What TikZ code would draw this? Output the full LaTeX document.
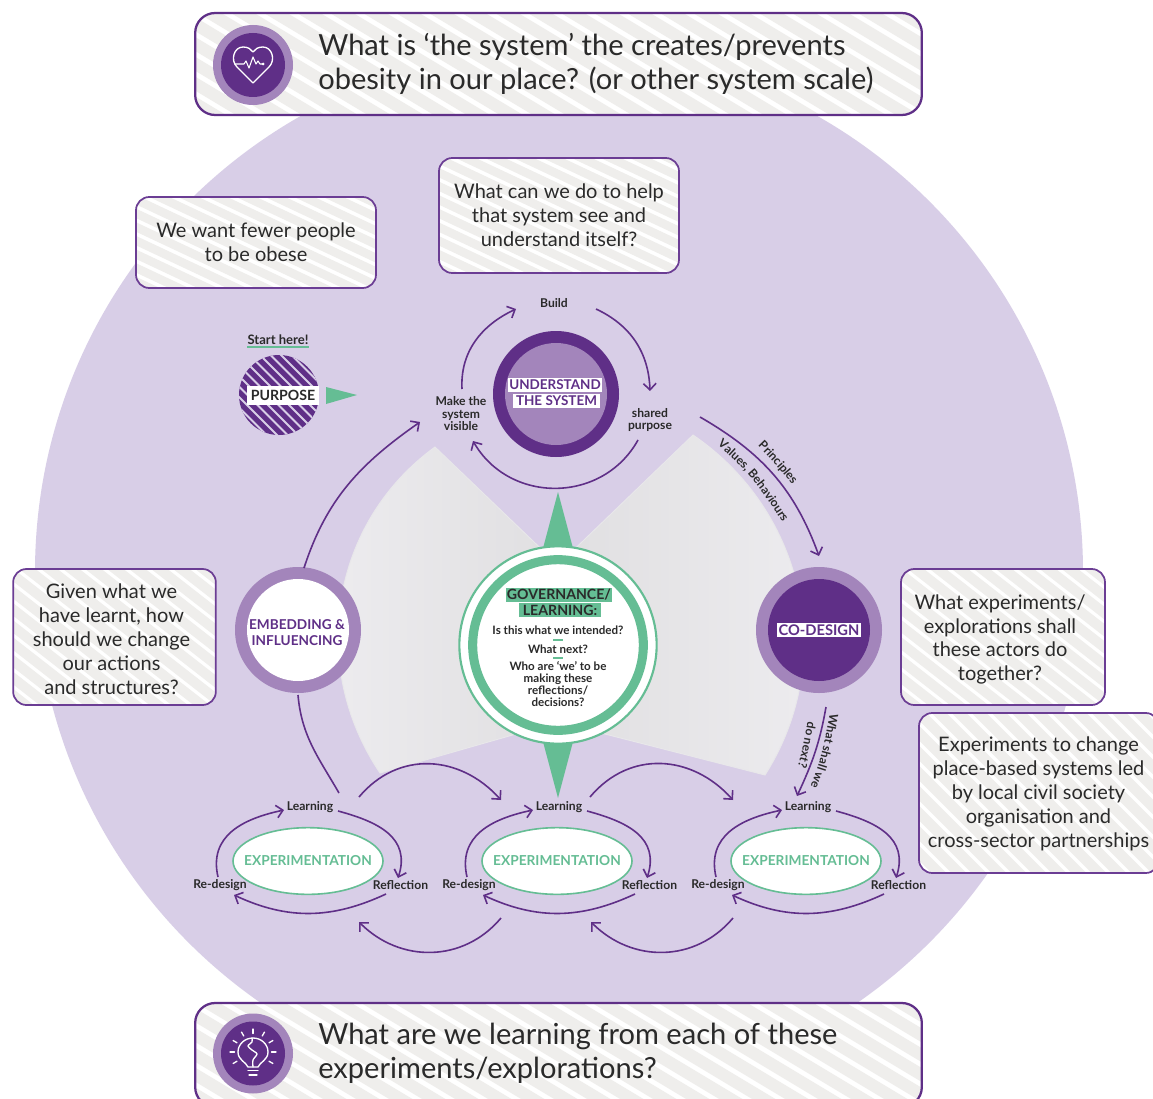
\documentclass[tikz,border=0pt]{standalone}
\usepackage{fontspec}
\setmainfont{Lato}
\usetikzlibrary{arrows.meta,decorations.text,shapes.geometric}
\definecolor{bgp}{HTML}{D8CEE7}
\definecolor{dp}{HTML}{5F2F87}
\definecolor{lp}{HTML}{A385BB}
\definecolor{gn}{HTML}{65BD94}
\definecolor{gs}{HTML}{EFEEEC}
\definecolor{ink}{HTML}{2A2A2A}
\definecolor{wl}{HTML}{EEEDF0}
\definecolor{wd}{HTML}{E0DFE1}
\definecolor{edgep}{HTML}{6B3D94}
\tikzset{
  x=0.75pt,y=-0.75pt,
  flow/.style={draw=dp,line width=1.2pt,-{Straight Barb[length=4.8pt,width=9.5pt,line width=1.2pt]}},
  plainflow/.style={draw=dp,line width=1.2pt},
  stripes/.style n args={3}{path picture={
    \foreach \s in {-30,...,30}
      \draw[gs,line width=#3] ([shift={(\s*#1-400,-400*#2)}]path picture bounding box.center) -- ([shift={(\s*#1+400,400*#2)}]path picture bounding box.center);}},
  callout/.style={draw=edgep,line width=1.3pt,fill=white,rounded corners=10pt,inner sep=0pt},
  ctext/.style={align=center,text=ink,inner sep=0pt,font=\fontsize{15}{17.9}\selectfont},
  banner/.style={draw=dp,line width=1.7pt,fill=white,rounded corners=15pt,stripes={33}{.6}{9pt},inner sep=0pt},
  bannertext/.style={anchor=west,text=ink,align=left,inner sep=0pt,font=\fontsize{21.8}{25.5}\selectfont},
  small/.style={text=ink,inner sep=0pt,align=center,font=\bfseries\fontsize{9.1}{9.4}\selectfont},
  tag/.style={fill=white,inner sep=0pt,text=dp,align=center,font=\bfseries\fontsize{10.1}{11}\selectfont},
  ringouter/.style={circle,fill=#1,minimum size=94.5pt,inner sep=0pt},
  ringinner/.style={circle,fill=#1,minimum size=76.5pt,inner sep=0pt},
  iconouter/.style={circle,fill=lp,minimum size=60pt,inner sep=0pt},
  iconinner/.style={circle,fill=dp,minimum size=48pt,inner sep=0pt},
  iconline/.style={draw=white,line width=1pt,line cap=round,line join=round},
  greenband/.style={fill=gn,inner sep=0pt,text=ink,font=\bfseries\fontsize{10.6}{11}\selectfont},
  govtext/.style={text=ink,inner sep=0pt,align=center,font=\bfseries\fontsize{8.7}{9}\selectfont},
  expell/.style={ellipse,draw=gn,line width=1.2pt,fill=white,minimum width=112.5pt,minimum height=50pt,inner sep=0pt},
  exptext/.style={text=gn,inner sep=0pt,font=\bfseries\fontsize{10.3}{12}\selectfont},
  bent/.style={decorate,decoration={text along path,text align=center,text={|\bfseries\fontsize{9}{9}\selectfont\color{ink}|#1}}}
}
\begin{document}
\begin{tikzpicture}
\clip (0,0) rectangle (1153,1099);
\fill[white] (0,0) rectangle (1153,1099);
% big disc
\fill[bgp] (559,572) circle (524);
% grey wedges
\coordinate (wa) at (435,447); \coordinate (wb) at (558,565); \coordinate (wc) at (558,722); \coordinate (wd1) at (380,773);
\coordinate (xa) at (693,435); \coordinate (xd) at (765,775);
\shade[left color=wl,right color=wd,draw=wl!60!wd,line width=.7pt] (wa) -- (wb) -- (wc) -- (wd1) to[out=124,in=216] (wa) -- cycle;
\shade[left color=wd,right color=wl,draw=wl!60!wd,line width=.7pt] (xa) -- (wb) -- (wc) -- (xd) to[out=57.5,in=-34.3] (xa) -- cycle;
% green spikes
\fill[gn] (558,492) -- (574,552) -- (542,552) -- cycle;
\fill[gn] (558,798) -- (574,738) -- (542,738) -- cycle;
% central circle
\node[circle,draw=gn,line width=1.6pt,fill=white,minimum size=148pt,inner sep=0pt] (gov) at (558,645) {};
\node[circle,draw=gn,line width=6.8pt,fill=white,minimum size=128pt,inner sep=0pt] (govring) at (558,645) {};
\node[greenband,minimum width=79.5pt,minimum height=10.5pt] (g1) at (559,594.5) {GOVERNANCE/};
\node[greenband,minimum width=61.5pt,minimum height=10.5pt] (g2) at (560,610) {LEARNING:};
\node[govtext] (g3) at (558,630) {Is this what we intended?};
\fill[gn] (553,639.3) rectangle (563,640.7);
\node[govtext] (g4) at (558,649) {What next?};
\fill[gn] (553,657.3) rectangle (563,658.7);
\node[govtext] (g5) at (558,684.5) {Who are ‘we’ to be\\making these\\reflections/\\decisions?};
% understand
\node[ringouter=dp] (und) at (556,394) {};
\node[ringinner=lp] (undi) at (556,394) {};
\node[tag,minimum width=70.5pt,minimum height=10.5pt] (u1) at (555,385) {UNDERSTAND};
\node[tag,minimum width=65pt,minimum height=10.5pt] (u2) at (556.5,401) {THE SYSTEM};
% embedding
\node[ringouter=lp] (emb) at (298,630) {};
\node[ringinner=white] (embi) at (298,630) {};
\node[text=dp,align=center,inner sep=0pt,font=\bfseries\fontsize{10.2}{11.5}\selectfont] (embt) at (297,632.5) {EMBEDDING \&\\INFLUENCING};
% codesign
\node[ringouter=lp] (cod) at (819,630) {};
\node[ringinner=dp] (codi) at (819,630) {};
\node[tag,minimum width=63pt,minimum height=10.5pt,font=\bfseries\fontsize{11}{11}\selectfont] (codt) at (819,630) {CO-DESIGN};
% purpose
\node[circle,minimum size=60pt,inner sep=0pt,fill=dp,path picture={
  \foreach \s in {-8,...,8}
    \draw[bgp,line width=1.5pt] ([shift={(\s*10.5-60,-60)}]path picture bounding box.center) -- ([shift={(\s*10.5+60,60)}]path picture bounding box.center);}] (pur) at (279,395) {};
\node[fill=white,minimum width=54pt,minimum height=14.2pt,inner sep=0pt,text=ink,font=\bfseries\fontsize{10.6}{11}\selectfont] (purt) at (283,395.5) {PURPOSE};
\node[small,font=\bfseries\fontsize{9.8}{10}\selectfont] (start) at (278,340) {Start here!};
\coordinate (ula) at (247,347); \coordinate (ulb) at (309,347);
\draw[gn,line width=1pt] (ula) -- (ulb);
\fill[gn] (326,387) -- (357,395) -- (326,404) -- cycle;
% understand loop
\node[small] (build) at (554,303) {Build};
\node[small] (vis) at (461,414) {Make the\\system\\visible};
\node[small] (sha) at (650,420) {shared\\purpose};
\coordinate (a1) at (462,389); \coordinate (a2) at (516,309);
\coordinate (b1) at (596,309); \coordinate (b2) at (650,391);
\coordinate (c1) at (638,440); \coordinate (c2) at (473,441);
\draw[flow] (a1) to[out=93,in=205] (a2);
\draw[flow] (b1) to[out=-25,in=92] (b2);
\draw[flow] (c1) to[out=-119,in=-60,looseness=1.13] (c2);
% large connectors
\coordinate (d1) at (304,568); \coordinate (d2) at (420,422);
\draw[flow] (d1) to[out=72,in=215] (d2);
\coordinate (e1) at (700,417); \coordinate (e2) at (819,556);
\draw[flow] (e1) to[out=-30,in=110] (e2);
\coordinate (f1) at (826,707); \coordinate (f2) at (797,796);
\draw[flow] (f1) to[out=-100,in=65] (f2);
\coordinate (g1s) at (298,695); \coordinate (g1e) at (339,793);
\draw[plainflow] (g1s) to[out=-85,in=120] (g1e);
% hops
\coordinate (h1) at (359,797); \coordinate (h2) at (501,800);
\coordinate (i1) at (590,797); \coordinate (i2) at (733,800);
\coordinate (j1) at (501,918); \coordinate (j2) at (359,922);
\coordinate (k1) at (733,918); \coordinate (k2) at (591,922);
\draw[flow] (h1) to[out=50,in=132,looseness=1.1] (h2);
\draw[flow] (i1) to[out=50,in=132,looseness=1.1] (i2);
\draw[flow] (j1) to[out=-130,in=-45,looseness=1.05] (j2);
\draw[flow] (k1) to[out=-130,in=-45,looseness=1.05] (k2);
% curved labels
\coordinate (p1) at (755,443); \coordinate (p2) at (795,488);
\path[bent={Principles}] (p1) to[out=-45,in=130] (p2);
\coordinate (v1) at (715,443); \coordinate (v2) at (784,525);
\path[bent={Values, Behaviours}] (v1) to[out=-40,in=122] (v2);
\coordinate (w1) at (830,712); \coordinate (w2) at (810,788);
\path[bent={What shall we}] (w1) to[out=-100,in=68] (w2);
\coordinate (n1) at (808,719); \coordinate (n2) at (797,769);
\path[bent={do next?}] (n1) to[out=-100,in=72] (n2);
% experimentation loops
\foreach \dx/\n in {0/x,249/y,498/z}{
\begin{scope}[shift={(\dx,0)}]
  \node[expell] (exp\n) at (308,861) {};
  \node[exptext] (ext\n) at (308,861) {EXPERIMENTATION};
  \node[small] (lea\n) at (310,807) {Learning};
  \node[small] (red\n) at (220,885) {Re-design};
  \node[small] (ref\n) at (400.5,885) {Reflection};
  \coordinate (q1\n) at (218,877); \coordinate (q2\n) at (284,810);
  \coordinate (r1\n) at (338,811); \coordinate (r2\n) at (398,878);
  \coordinate (s1\n) at (386,894); \coordinate (s2\n) at (234,895);
  \draw[flow] (q1\n) to[out=103,in=192,looseness=1.15] (q2\n);
  \draw[flow] (r1\n) to[out=-15,in=72,looseness=1.2] (r2\n);
  \draw[flow] (s1\n) to[out=-155,in=-25] (s2\n);
\end{scope}}
% callouts
\node[callout,stripes={29}{.47}{6.4pt},minimum width=180pt,minimum height=68.25pt] (co1) at (256,242.5) {};
\node[ctext] (ct1) at (256,242.5) {We want fewer people\\to be obese};
\node[callout,stripes={29}{.47}{6.4pt},minimum width=180pt,minimum height=86.25pt] (co2) at (559,215.5) {};
\node[ctext] (ct2) at (559,215.5) {What can we do to help\\that system see and\\understand itself?};
\node[callout,stripes={22}{.78}{7.5pt},minimum width=152pt,minimum height=102pt] (co3) at (114.5,637) {};
\node[ctext] (ct3) at (111.5,639) {Given what we\\have learnt, how\\should we change\\our actions\\and structures?};
\node[callout,stripes={22}{.78}{7.5pt},minimum width=153pt,minimum height=102pt] (co4) at (1003,637) {};
\node[ctext] (ct4) at (1000,639.5) {What experiments/\\explorations shall\\these actors do\\together?};
\node[callout,stripes={20}{1}{7.9pt},minimum width=180pt,minimum height=120pt] (co5) at (1039,793) {};
\node[ctext] (ct5) at (1038.5,794) {Experiments to change\\place-based systems led\\by local civil society\\organisation and\\cross-sector partnerships};
% banners
\node[banner,minimum width=545pt,minimum height=76.5pt] (top) at (558.5,64) {};
\node[banner,minimum width=545pt,minimum height=78pt] (bot) at (558.5,1055) {};
\node[bannertext] (toptx) at (318,63.5) {What is ‘the system’ the creates/prevents\\obesity in our place? (or other system scale)};
\node[bannertext] (bottx) at (318,1053) {What are we learning from each of these\\experiments/explorations?};
% heart icon
\node[iconouter] (hrto) at (253,65) {};
\node[iconinner] (hrti) at (253,65) {};
\draw[iconline] (253,83) -- (237,67) .. controls (230,60) and (234,47) .. (243,47) .. controls (248,47) and (251,49) .. (253,52) .. controls (255,49) and (258,47) .. (263,47) .. controls (272,47) and (276,60) .. (269,67) -- cycle;
\draw[iconline,line width=.8pt] (235,64) -- (244,64) -- (246,61) -- (249,68) -- (253,57) -- (256,64) -- (258,61) -- (260,64) -- (263,64);
\fill[white] (263,64) circle (1.5);
% bulb icon
\node[iconouter] (blbo) at (253,1053.5) {};
\node[iconinner] (blbi) at (253,1053.5) {};
\draw[iconline] (248,1067) .. controls (246,1062) and (238,1060) .. (238,1052) .. controls (238,1044) and (245,1038) .. (253,1038) .. controls (261,1038) and (268,1044) .. (268,1052) .. controls (268,1060) and (260,1062) .. (258,1067) -- cycle;
\draw[iconline] (248,1070.5) -- (258,1070.5) (249,1075) -- (257,1075);
\draw[iconline] plot[smooth] coordinates {(252,1038) (252,1042) (248,1046) (252,1050) (257,1054) (253,1060) (253,1067)};
\foreach \a in {150,180,210,240,270,300,330,0,30}
  \draw[iconline] ([shift={(\a:18.5)}]253,1052) -- ([shift={(\a:23)}]253,1052);
\end{tikzpicture}
\end{document}
